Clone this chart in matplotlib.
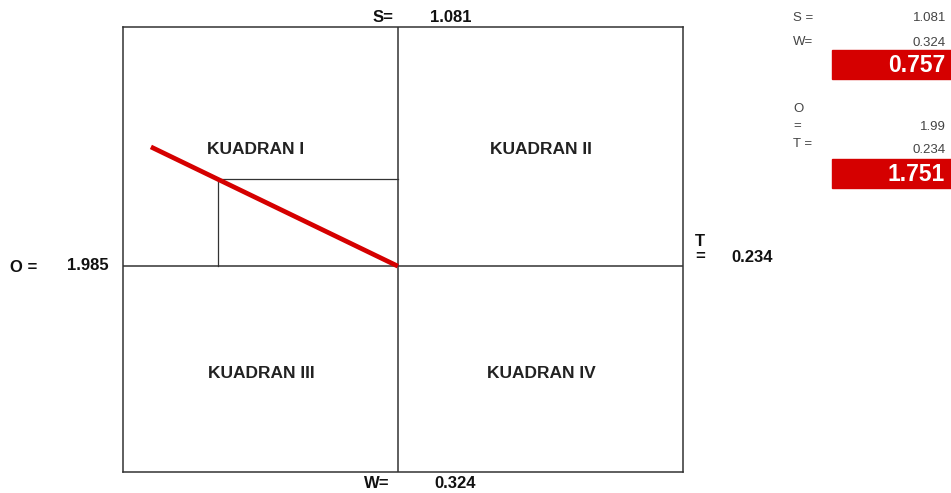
import matplotlib.pyplot as plt

plt.rcParams['font.family'] = ['Liberation Sans', 'DejaVu Sans']

# factor values
factors = ['S', 'W', 'O', 'T']
scores = [1.081, 0.324, 1.985, 0.234]
quadrants = ['KUADRAN I', 'KUADRAN II', 'KUADRAN III', 'KUADRAN IV']

S, W, O, T = scores
sw = S - W
ot = O - T

RED = '#d50000'
W_PX, H_PX = 951, 493


def fx(x):
    return x / W_PX


def fy(y):
    return 1 - y / H_PX


fig = plt.figure(figsize=(9.51, 4.93), dpi=100)
ax = fig.add_axes([fx(123), fy(472), (683 - 123) / W_PX, (472 - 27) / H_PX])
ax.set_xlim(-2.67, 2.77)
ax.set_ylim(-1.79, 2.08)
for sp in ax.spines.values():
    sp.set_color('#333333')
    sp.set_linewidth(1.1)
ax.set_xticks([])
ax.set_yticks([])

ax.axvline(0, color='#333333', lw=1.1)
ax.axhline(0, color='#333333', lw=1.1)

# position point: x = -(O - T), y = S - W
px, py = -ot, sw
ax.plot([px, 0], [py, py], color='#333333', lw=0.9)
ax.plot([px, px], [py, 0], color='#333333', lw=0.9)
ext = 1.37
ax.plot([0, px * ext], [0, py * ext], color=RED, lw=3.4, solid_capstyle='butt')

# quadrant labels
qpos = [(256, 150), (541, 150), (261, 373), (541, 373)]
for name, (x, y) in zip(quadrants, qpos):
    fig.text(fx(x), fy(y), name, ha='center', va='center',
             fontsize=12.5, fontweight='bold', color='#222222')

bold = dict(fontsize=12, fontweight='bold', color='#111111', va='center')
fig.text(fx(383), fy(17), 'S=', ha='center', **bold)
fig.text(fx(451), fy(17), f'{S:.3f}', ha='center', **bold)
fig.text(fx(377), fy(484), 'W=', ha='center', **bold)
fig.text(fx(455), fy(484), f'{W:.3f}', ha='center', **bold)
fig.text(fx(24), fy(267), 'O =', ha='center', **bold)
fig.text(fx(88), fy(265), f'{O:.3f}', ha='center', **bold)
fig.text(fx(700), fy(241), 'T', ha='center', **bold)
fig.text(fx(700), fy(256), '=', ha='center', **bold)
fig.text(fx(752), fy(258), f'{T:.3f}', ha='center', **bold)

# right side summary
small = dict(fontsize=9.5, color='#444444', va='center')
fig.text(fx(793), fy(18), 'S =', ha='left', **small)
fig.text(fx(946), fy(18), f'{S:.3f}', ha='right', **small)
fig.text(fx(793), fy(42), 'W=', ha='left', **small)
fig.text(fx(946), fy(43), f'{W:.3f}', ha='right', **small)
fig.text(fx(793), fy(109), 'O', ha='left', **small)
fig.text(fx(793), fy(126), '=', ha='left', **small)
fig.text(fx(946), fy(127), f'{O:.2f}', ha='right', **small)
fig.text(fx(793), fy(144), 'T =', ha='left', **small)
fig.text(fx(946), fy(150), f'{T:.3f}', ha='right', **small)

for val, ytop in [(sw, 50), (ot, 159)]:
    fig.patches.append(plt.Rectangle((fx(832), fy(ytop + 29)), (951 - 832) / W_PX,
                                     29 / H_PX, transform=fig.transFigure,
                                     color=RED, zorder=1))
    fig.text(fx(945), fy(ytop + 15), f'{val:.3f}', ha='right', va='center',
             fontsize=16.5, fontweight='bold', color='white', zorder=2)

fig.savefig('out.png', dpi=100)
